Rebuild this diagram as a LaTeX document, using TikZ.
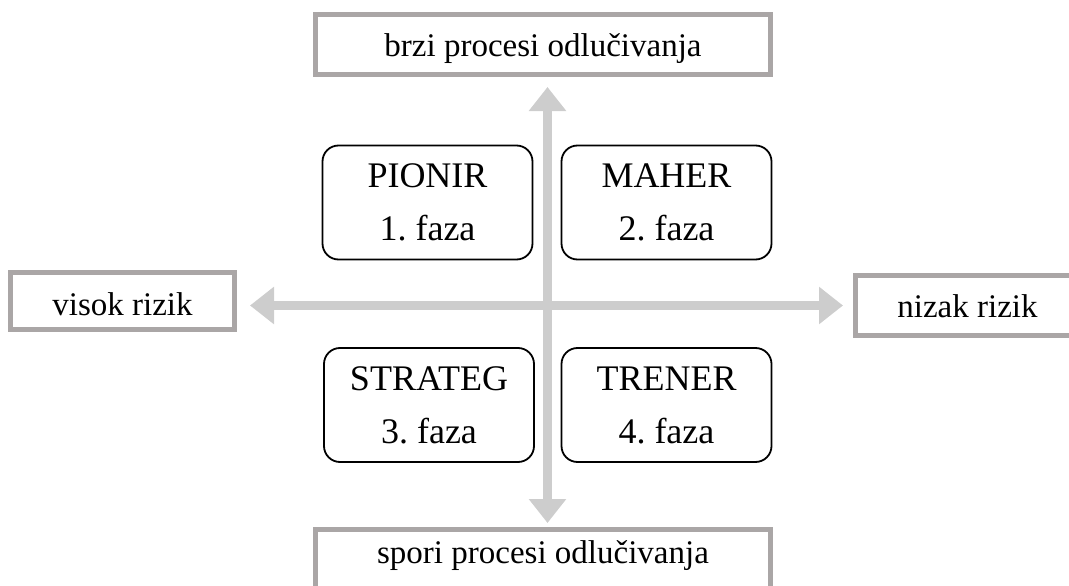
\documentclass[tikz,border=0pt]{standalone}
\usepackage{fontspec}
\setmainfont{Liberation Serif}
\usetikzlibrary{arrows.meta}
\definecolor{framegray}{RGB}{170,166,166}
\definecolor{axisgray}{RGB}{205,205,205}
\frenchspacing
\tikzset{
  axis/.style={line width=9pt, axisgray,
    {Triangle[width=36pt,length=24pt]}-{Triangle[width=36pt,length=24pt]}},
  pole/.style={draw=framegray, line width=5pt, fill=white, inner sep=0pt,
    minimum height=60pt, text height=25pt, text depth=0pt,
    font=\fontsize{33}{38}\selectfont},
  phase/.style={draw, line width=1.8pt, rounded corners=16pt, align=center,
    minimum width=210pt, minimum height=114pt, font=\fontsize{36}{53}\selectfont}
}

\begin{document}
\begin{tikzpicture}[x=1pt, y=-1pt]
\useasboundingbox (0,0) rectangle (1069,586);
% Poles
    \node[pole, minimum width=455pt] (brzi) at (543,44.5) {brzi procesi odlučivanja};
    \node[pole, minimum width=455pt, text depth=17pt] (spori) at (543,559.5) {spori procesi odlučivanja};
    \node[pole, minimum width=224pt, minimum height=57pt, text height=28pt] (visok) at (122.5,301) {visok rizik};
    \node[pole, minimum width=224pt, text height=23pt] (nizak) at (967.5,305.5) {nizak rizik};
% Phases
    \node[phase] (pionir) at (427.5,202.5) {PIONIR\\1. faza};
    \node[phase] (maher) at (666.5,202.5) {MAHER\\2. faza};
    \node[phase] (strateg) at (429,405) {STRATEG\\3. faza};
    \node[phase] (trener) at (666.5,405) {TRENER\\4. faza};
% Axes
    \coordinate (centar) at (547.5,305.5);
    \draw[axis, shorten <=10pt, shorten >=4pt] (brzi.south -| centar) -- (spori.north -| centar);
    \draw[axis, shorten <=13pt, shorten >=10pt] (visok.east |- centar) -- (nizak.west |- centar);
\end{tikzpicture}
\end{document}
